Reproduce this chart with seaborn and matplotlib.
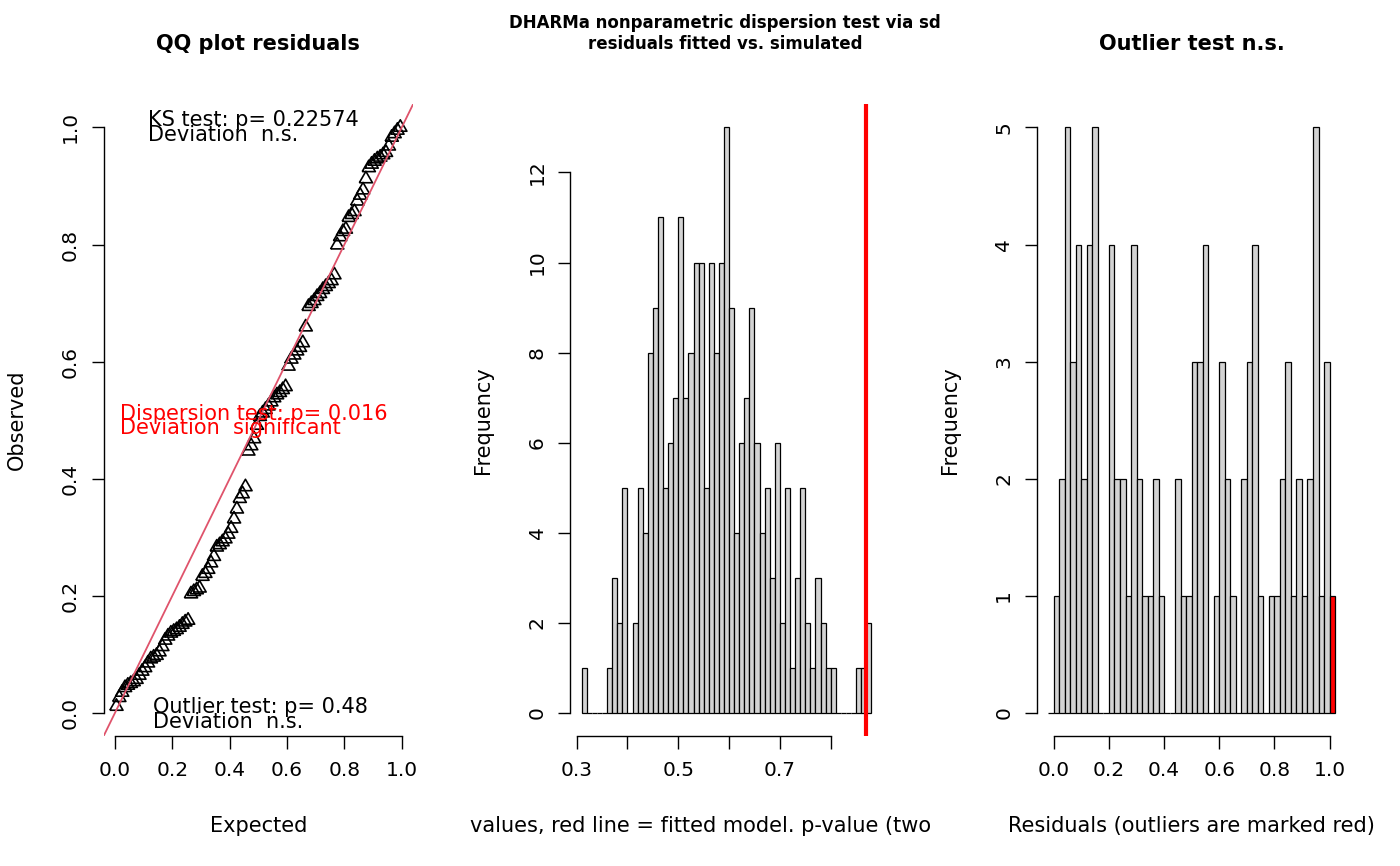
import numpy as np
import pandas as pd
import matplotlib
matplotlib.use("Agg")
import matplotlib.pyplot as plt
from matplotlib.transforms import Bbox, TransformedBbox
import seaborn as sns

sns.set_style("ticks")
plt.rcParams['font.family'] = ['DejaVu Sans']
plt.rcParams['text.color'] = 'black'
plt.rcParams['axes.labelcolor'] = 'black'
plt.rcParams['xtick.color'] = 'black'
plt.rcParams['ytick.color'] = 'black'

# scaled residuals (sorted), last one is the outlier
residuals = [
    0.011, 0.026, 0.035, 0.043, 0.047, 0.050, 0.053, 0.057, 0.064, 0.071,
    0.077, 0.085, 0.092, 0.095, 0.098, 0.104, 0.113, 0.124, 0.131, 0.136,
    0.139, 0.142, 0.146, 0.151, 0.155, 0.158, 0.203, 0.207, 0.210, 0.213,
    0.233, 0.238, 0.245, 0.256, 0.267, 0.283, 0.287, 0.292, 0.297, 0.305,
    0.315, 0.331, 0.348, 0.366, 0.374, 0.386, 0.447, 0.456, 0.468, 0.491,
    0.506, 0.512, 0.518, 0.524, 0.531, 0.538, 0.543, 0.547, 0.552, 0.557,
    0.592, 0.604, 0.611, 0.618, 0.624, 0.632, 0.659, 0.694, 0.699, 0.704,
    0.711, 0.716, 0.723, 0.728, 0.733, 0.738, 0.748, 0.799, 0.813, 0.822,
    0.826, 0.846, 0.851, 0.856, 0.874, 0.884, 0.893, 0.912, 0.931, 0.937,
    0.942, 0.946, 0.949, 0.953, 0.957, 0.968, 0.983, 0.989, 0.995, 1.000]

# simulated sd of residuals, counts per 0.01 bin starting at 0.31
sd_counts = [1, 0, 0, 0, 0, 1, 3, 2, 5, 0,
             2, 5, 4, 8, 9, 11, 5, 6, 7, 11,
             7, 8, 10, 10, 5, 10, 8, 10, 13, 9,
             4, 6, 7, 9, 6, 4, 5, 3, 6, 2,
             5, 1, 3, 5, 2, 1, 3, 2, 1, 1,
             0, 0, 0, 0, 1, 1, 2]
sd_first_break = 0.31
sd_bin_width = 0.01
observed_sd = 0.870

ks_text = ["KS test: p= 0.22574", "Deviation  n.s."]
disp_text = ["Dispersion test: p= 0.016", "Deviation  significant"]
outl_text = ["Outlier test: p= 0.48", "Deviation  n.s."]
disp_xlab = "Simulated values, red line = fitted model. p-value (two.sided) = 0.016"

FS = 15
TICK_FS = 14.5
W, H = 1400, 866


def r_axes(ax, xticks, yticks, xlim, ylim, xlabels, ylabels):
    ax.set_xlim(xlim)
    ax.set_ylim(ylim)
    ax.set_xticks(xticks)
    ax.set_xticklabels(xlabels, fontsize=TICK_FS)
    ax.set_yticks(yticks)
    ax.set_yticklabels(ylabels, fontsize=TICK_FS, rotation=90, va='center')
    sns.despine(ax=ax)
    ax.spines['bottom'].set_bounds(xticks[0], xticks[-1])
    ax.spines['left'].set_bounds(yticks[0], yticks[-1])
    for s in ('bottom', 'left'):
        ax.spines[s].set_linewidth(1.0)
        ax.spines[s].set_color('black')
    ax.tick_params(direction='out', length=9, width=1.0, color='black', labelcolor='black')
    ax.tick_params(axis='x', pad=9)
    ax.tick_params(axis='y', pad=8)
    ax.xaxis.set_label_coords(0.5, -0.142)
    ax.xaxis.label.set_va('center')
    ax.yaxis.set_label_coords(-0.28, 0.5)
    ax.yaxis.label.set_va('center')


fig = plt.figure(figsize=(W / 100, H / 100), dpi=100)
fig.patch.set_facecolor('white')
bottom = 1 - 736.3 / H
height = 632.3 / H
width = 309.7 / W
axes = [fig.add_axes([(103.5 + k * W / 3) / W, bottom, width, height]) for k in range(3)]
ax1, ax2, ax3 = axes

# ---- QQ plot ----
n = len(residuals)
expected = (np.arange(1, n + 1) - 0.5) / n
tri = [(-1, -0.577), (1, -0.577), (0, 1.155), (-1, -0.577)]
sns.scatterplot(x=expected, y=np.sort(residuals), marker=tri, s=120,
                facecolor='none', edgecolor='black', linewidth=1.2, ax=ax1)
ax1.axline((0, 0), slope=1, color='#DF536B', lw=1.3)
ticks01 = [0, 0.2, 0.4, 0.6, 0.8, 1.0]
lab01 = ["0.0", "0.2", "0.4", "0.6", "0.8", "1.0"]
r_axes(ax1, ticks01, ticks01, (-0.04, 1.04), (-0.04, 1.04), lab01, lab01)
ax1.set_xlabel("Expected", fontsize=FS)
ax1.set_ylabel("Observed", fontsize=FS)
ax1.set_title("QQ plot residuals", fontsize=FS, fontweight='bold', y=1 + 52 / 632.3, va='center')
ax1.text(0.116, 1.003, ks_text[0], fontsize=FS, va='baseline')
ax1.text(0.116, 0.977, ks_text[1], fontsize=FS, va='baseline')
ax1.text(0.0175, 0.501, disp_text[0], fontsize=FS, va='baseline', color='red')
ax1.text(0.0175, 0.477, disp_text[1], fontsize=FS, va='baseline', color='red')
ax1.text(0.134, -0.0005, outl_text[0], fontsize=FS, va='baseline')
ax1.text(0.134, -0.026, outl_text[1], fontsize=FS, va='baseline')

# ---- dispersion histogram ----
sd_edges = [round(sd_first_break + sd_bin_width * i, 3) for i in range(len(sd_counts) + 1)]
sd_df = pd.DataFrame({
    'sd': [(a + b) / 2 for a, b in zip(sd_edges[:-1], sd_edges[1:])],
    'n': sd_counts,
})
sns.histplot(data=sd_df, x='sd', weights='n', bins=sd_edges, color='lightgrey',
             edgecolor='black', linewidth=0.9, alpha=1, ax=ax2)
ax2.axvline(observed_sd, color='red', lw=3)
r_axes(ax2, [0.3, 0.4, 0.5, 0.6, 0.7, 0.8], [0, 2, 4, 6, 8, 10, 12],
       (0.2872, 0.8968), (-0.52, 13.52),
       ["0.3", "", "0.5", "", "0.7", ""], ["0", "2", "4", "6", "8", "10", "12"])
xl = ax2.set_xlabel(disp_xlab, fontsize=FS)
xl.set_clip_box(TransformedBbox(Bbox([[1 / 3, 0], [2 / 3, 1]]), fig.transFigure))
xl.set_clip_on(True)
ax2.set_ylabel("Frequency", fontsize=FS)
ax2.set_title("DHARMa nonparametric dispersion test via sd\nresiduals fitted vs. simulated",
              fontsize=12, fontweight='bold', y=1 + 62 / 632.3, va='center')

# ---- outlier histogram ----
out_edges = [round(-0.02 + 0.02 * i, 2) for i in range(53)]
out_df = pd.DataFrame({'res': [1.01 if r >= 1 else r for r in residuals]})
sns.histplot(data=out_df, x='res', bins=out_edges, color='lightgrey',
             edgecolor='black', linewidth=0.9, alpha=1, ax=ax3)
ax3.patches[0].set_facecolor('red')
ax3.patches[-1].set_facecolor('red')
r_axes(ax3, ticks01, [0, 1, 2, 3, 4, 5], (-0.0616, 1.0616), (-0.2, 5.2),
       lab01, ["0", "1", "2", "3", "4", "5"])
ax3.set_xlabel("Residuals (outliers are marked red)", fontsize=FS)
ax3.set_ylabel("Frequency", fontsize=FS)
ax3.set_title("Outlier test n.s.", fontsize=FS, fontweight='bold', y=1 + 52 / 632.3, va='center')

fig.savefig("out.png", dpi=100)
